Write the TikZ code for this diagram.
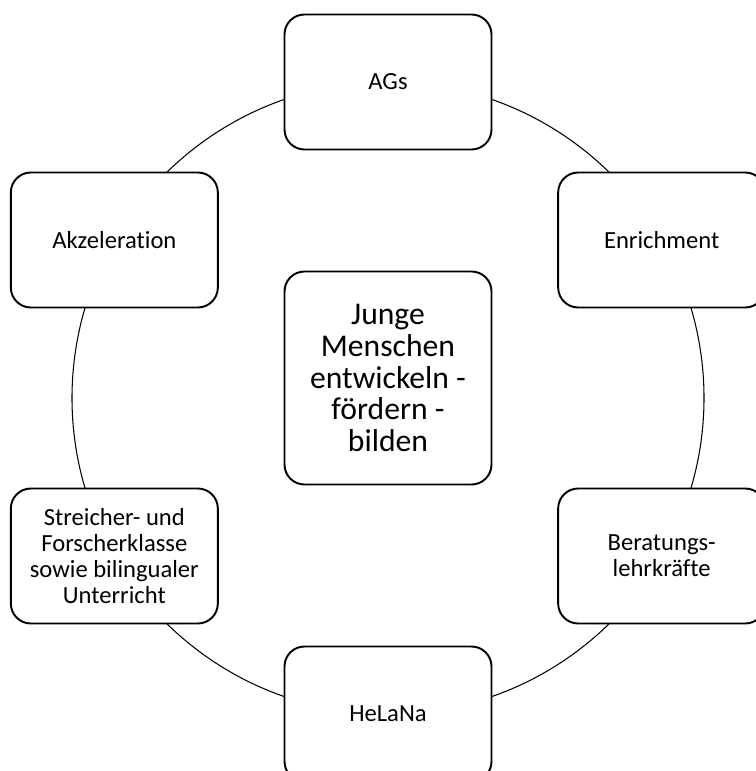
\documentclass[tikz,border=0pt]{standalone}
\usepackage{fontspec}
\setmainfont{Carlito}[Ligatures=NoCommon]
\begin{document}
\begin{tikzpicture}[
  ring/.style={draw,line width=1.1pt,fill=white,rounded corners=0.4cm,align=center,
    minimum width=4.14cm,minimum height=2.7cm,font=\fontsize{14}{14.8}\selectfont},
  core/.style={ring,minimum height=4.26cm,font=\fontsize{18}{18}\selectfont}]
\useasboundingbox (0,0) rectangle (15.1,-15.42);
\coordinate (c) at (7.76,-7.96);
\draw[line width=0.6pt] (c) circle (6.32);
\node[ring] (ags) at ([shift={(90:6.32)}]c) {AGs};
\node[ring] (enrich) at ([shift={(30:6.32)}]c) {Enrichment};
\node[ring] (berat) at ([shift={(-30:6.32)}]c) {Beratungs-\\lehrkräfte};
\node[ring] (helana) at ([shift={(-90:6.32)}]c) {HeLaNa};
\node[ring] (streich) at ([shift={(210:6.32)}]c) {Streicher- und\\Forscherklasse\\sowie bilingualer\\Unterricht};
\node[ring] (akzel) at ([shift={(150:6.32)}]c) {Akzeleration};
\node[core] (mitte) at ([yshift=0.4cm]c) {Junge\\Menschen\\entwickeln -\\fördern -\\bilden};
\end{tikzpicture}
\end{document}
